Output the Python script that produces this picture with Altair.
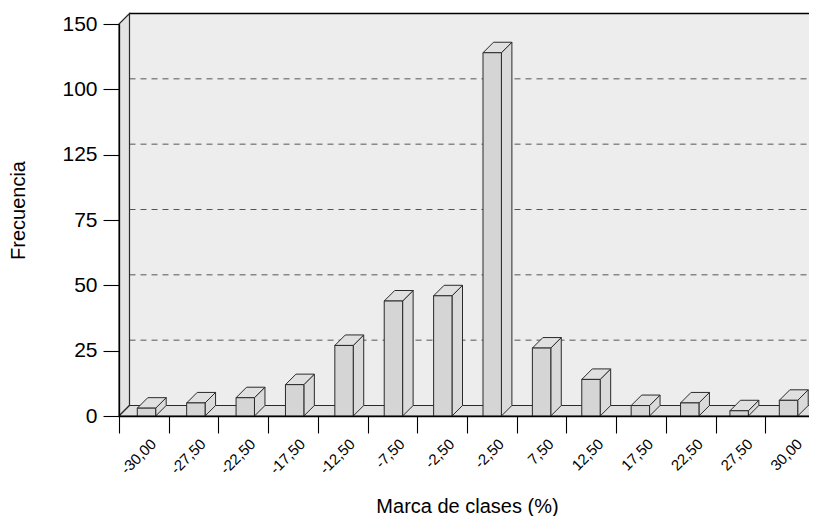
import altair as alt
import pandas as pd

# ---- data ----
class_labels = ["-30,00", "-27,50", "-22,50", "-17,50", "-12,50", "-7,50", "-2,50",
                "-2,50", "7,50", "12,50", "17,50", "22,50", "27,50", "30,00"]
frequencies = [3, 5, 7, 12, 27, 44, 46, 139, 26, 14, 4, 5, 2, 6]
y_tick_values = [0, 25, 50, 75, 100, 125, 150]
y_tick_text = ["0", "25", "50", "75", "125", "100", "150"]
grid_values = [25, 50, 75, 100, 125]

# ---- geometry / style constants ----
FONT = "Liberation Sans"
W, H = 690, 392
BAND_PX = 49.71
XMAX = W / BAND_PX
YMAX = 150
DEPTH_PX = 10.5
DX = DEPTH_PX / BAND_PX
DY = DEPTH_PX * YMAX / H
XW = XMAX + 0.6
OFF, PITCH, BW = 0.368, 0.9935, 0.37
EDGE = "#2a2a2a"

xs = alt.Scale(domain=[0, XMAX], nice=False, zero=False)
ys = alt.Scale(domain=[0, YMAX], nice=False, zero=False)

# ---- tables built from the arrays ----
bars = pd.DataFrame({"i": list(range(len(frequencies))), "label": class_labels, "v": frequencies})
bars["x0"] = bars["i"] * PITCH + OFF
bars["x1"] = bars["x0"] + BW
bars["zero"] = 0.0

side_rows, top_rows = [], []
for _, r in bars.iterrows():
    side_rows.append({"i": r.i, "x": r.x1, "top": r.v, "bot": 0.0})
    side_rows.append({"i": r.i, "x": r.x1 + DX, "top": r.v + DY, "bot": DY})
    top_rows.append({"i": r.i, "y": r.v, "xl": r.x0, "xr": r.x1})
    top_rows.append({"i": r.i, "y": r.v + DY, "xl": r.x0 + DX, "xr": r.x1 + DX})
side = pd.DataFrame(side_rows)
tops = pd.DataFrame(top_rows)

back = pd.DataFrame({"x": [DX], "x2": [XW], "y": [DY], "y2": [YMAX + DY]})
grid = pd.DataFrame({"y": [g + DY for g in grid_values], "x": DX, "x2": XW})
topedge = pd.DataFrame({"y": [YMAX + DY], "x": [DX], "x2": [XW]})
leftwall = pd.DataFrame({"x": [0.0, DX], "top": [YMAX, YMAX + DY], "bot": [0.0, DY]})
floor = pd.DataFrame({"y": [0.0, DY], "xl": [0.0, DX], "xr": [XW, XW + DX]})

NOAX = None

back_l = alt.Chart(back).mark_rect(fill="#ededed", stroke=None).encode(
    x=alt.X("x:Q", scale=xs, axis=NOAX), x2="x2:Q",
    y=alt.Y("y:Q", scale=ys, axis=NOAX), y2="y2:Q")

grid_l = alt.Chart(grid).mark_rule(color="#555555", strokeDash=[6, 5], strokeWidth=1).encode(
    x=alt.X("x:Q", scale=xs, axis=NOAX), x2="x2:Q",
    y=alt.Y("y:Q", scale=ys, axis=NOAX))

top_l = alt.Chart(topedge).mark_rule(color="black", strokeWidth=1.6).encode(
    x=alt.X("x:Q", scale=xs, axis=NOAX), x2="x2:Q",
    y=alt.Y("y:Q", scale=ys, axis=NOAX))

left_l = alt.Chart(leftwall).mark_area(fill="#e3e3e3", stroke=EDGE, strokeWidth=1.2).encode(
    x=alt.X("x:Q", scale=xs, axis=NOAX),
    y=alt.Y("top:Q", scale=ys, axis=NOAX), y2="bot:Q")

floor_l = alt.Chart(floor).mark_area(orient="horizontal", fill="#e0e0e0", stroke=EDGE,
                                      strokeWidth=1.1).encode(
    y=alt.Y("y:Q", scale=ys, axis=NOAX),
    x=alt.X("xl:Q", scale=xs, axis=NOAX), x2="xr:Q")

side_l = alt.Chart(side).mark_area(fill="#dadada", stroke=EDGE, strokeWidth=1).encode(
    x=alt.X("x:Q", scale=xs, axis=NOAX),
    y=alt.Y("top:Q", scale=ys, axis=NOAX), y2="bot:Q",
    detail="i:N")

tops_l = alt.Chart(tops).mark_area(orient="horizontal", fill="#e0e0e0", stroke=EDGE,
                                    strokeWidth=1).encode(
    y=alt.Y("y:Q", scale=ys, axis=NOAX),
    x=alt.X("xl:Q", scale=xs, axis=NOAX), x2="xr:Q",
    detail="i:N")

x_label_expr = "[" + ",".join("'%s'" % s for s in class_labels) + "][datum.value] || ''"
y_label_expr = "[" + ",".join("'%s'" % s for s in y_tick_text) + "][round(datum.value/25)]"

front_l = alt.Chart(bars).mark_rect(fill="#d5d5d5", stroke=EDGE, strokeWidth=1).encode(
    x=alt.X("x0:Q", scale=xs, axis=alt.Axis(
        values=list(range(len(frequencies) + 1)), labelExpr=x_label_expr,
        labelAngle=-45, labelAlign="right", labelBaseline="middle",
        labelOffset=34, labelPadding=8, labelFontSize=15, labelFlush=False,
        labelOverlap=False, tickSize=17, grid=False, zindex=1,
        title="Marca de clases (%)", titleFontSize=20, titleX=348, titleY=96,
        titleAlign="center", titleBaseline="alphabetic")),
    x2="x1:Q",
    y=alt.Y("zero:Q", scale=ys, axis=alt.Axis(
        values=y_tick_values, labelExpr=y_label_expr, labelFontSize=21,
        labelPadding=6, tickSize=16, labelFlush=False, labelOverlap=False, grid=False,
        zindex=1, title="Frecuencia", titleFontSize=20, titleAngle=270,
        titleX=-101, titleY=186, titleAlign="center", titleBaseline="middle")),
    y2="v:Q")

chart = alt.layer(back_l, grid_l, top_l, left_l, floor_l, side_l, tops_l, front_l).resolve_axis(
    x="independent", y="independent"
).properties(
    width=W, height=H,
    autosize=alt.AutoSizeParams(type="none"),
    padding={"left": 111, "top": 16, "right": 0, "bottom": 100},
    background="white",
).configure_axis(
    labelFont=FONT, titleFont=FONT, labelColor="black", titleColor="black",
    titleFontWeight="normal", domainColor="black", tickColor="black",
    domainWidth=1.3, tickWidth=1.1,
).configure_view(stroke=None)

chart.save("out.html", embed_options={"renderer": "svg", "actions": False})
